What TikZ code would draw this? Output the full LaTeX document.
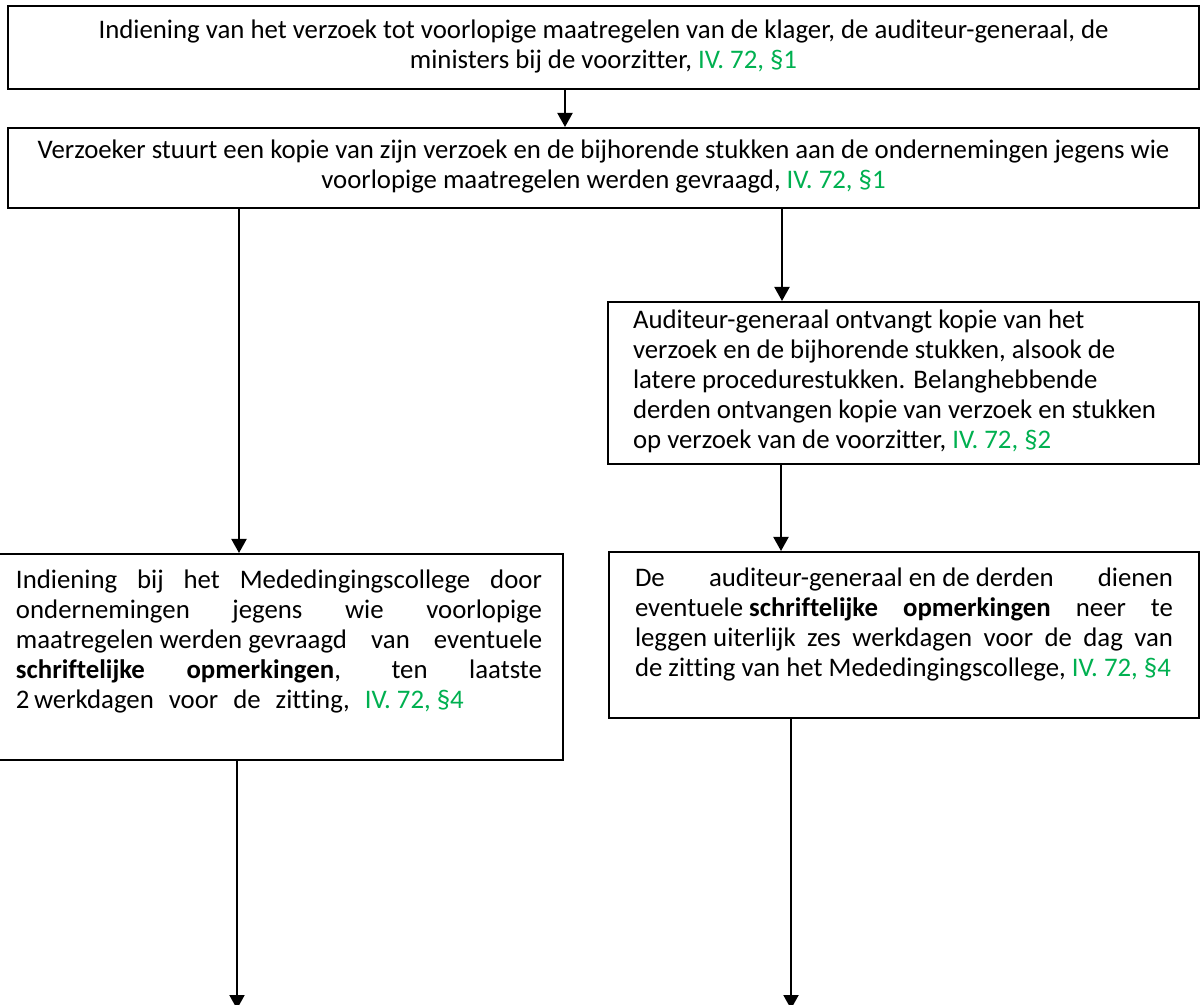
\documentclass[tikz,border=0pt]{standalone}
\usepackage{fontspec}
\setmainfont{Carlito}[Ligatures=NoCommon]
\usepackage{tikz}
\usetikzlibrary{
    arrows.meta,
    positioning,
}
\definecolor{wetgroen}{HTML}{00B050}
\tolerance=10000
\hbadness=10000
\hyphenpenalty=10000
\tikzstyle{stap}=[draw,rectangle,line width=1pt,inner xsep=0pt,inner ysep=0pt,font=\fontsize{13.4}{15}\selectfont]
\tikzstyle{pijl}=[->,line width=1pt]
\tikzset{
    >={Triangle[width=7.5pt,length=7pt]}
}
\newcommand{\Wet}[1]{\textcolor{wetgroen}{#1}}
\newcommand{\Gat}{\hspace{7.5pt}}
% text block of a step: [vertical position]{height}{width}{text}
\newcommand{\Vak}[4][c]{\parbox[c][#2][#1]{#3}{\strut#4\strut}}

\begin{document}
\begin{tikzpicture}[x=0.5pt,y=-0.5pt]
    \useasboundingbox (0,0) rectangle (1200,1005);

    % Steps
    \node[stap,anchor=north west,minimum width=595.5pt] (indiening) at (7,5)
        {\Vak{41.5pt}{560pt}{\centering Indiening van het verzoek tot voorlopige maatregelen van de klager, de auditeur-generaal, de\\ministers bij de voorzitter, \Wet{IV. 72, §1}}};
    \node[stap,below=18.5pt of indiening,minimum width=595.5pt] (verzoek)
        {\Vak{40pt}{590pt}{\centering Verzoeker stuurt een kopie van zijn verzoek en de bijhorende stukken aan de ondernemingen jegens wie\\voorlopige maatregelen werden gevraagd, \Wet{IV. 72, §1}}};
    \node[stap,below=46pt of verzoek.south east,anchor=north east,minimum width=295.5pt] (auditeur)
        {\Vak{81pt}{270.5pt}{\raggedright Auditeur-generaal ontvangt kopie van het\\verzoek en de bijhorende stukken, alsook de\\latere procedurestukken. Belanghebbende\\derden ontvangen kopie van verzoek en stukken\\op verzoek van de voorzitter, \Wet{IV. 72, §2}}};
    \node[stap,anchor=north east,minimum width=284pt,inner ysep=6.5pt] (opmerkingen) at (564,553)
        {\Vak[t]{90pt}{263pt}{Indiening bij het Mededingingscollege door\linebreak
        ondernemingen jegens wie voorlopige\linebreak
        \mbox{maatregelen werden gevraagd} van eventuele\linebreak
        \textbf{schriftelijke opmerkingen}, ten laatste\linebreak
        2\,werkdagen\Gat voor\Gat de\Gat zitting,\Gat\Wet{IV. 72, §4}}};
    \node[stap,below=43pt of auditeur.south east,anchor=north east,minimum width=295pt,inner ysep=7pt] (neerleggen)
        {\Vak[t]{69pt}{269pt}{De \mbox{auditeur-generaal en de derden} dienen\linebreak
        \mbox{eventuele \textbf{schriftelijke}} \textbf{opmerkingen} neer te\linebreak
        \mbox{leggen uiterlijk} zes werkdagen voor de dag van\linebreak
        de zitting van het Mededingingscollege, \Wet{IV. 72, §4}}};

    % Arrows
    \coordinate (onder) at (0,1009);
    \draw[pijl] ([xshift=-19.25pt]indiening.south) -- ([xshift=-19.25pt]indiening.south |- verzoek.north);
    \draw[pijl] ([xshift=-182.25pt]verzoek.south) -- ([xshift=-182.25pt]verzoek.south |- opmerkingen.north);
    \draw[pijl] ([xshift=89.25pt]verzoek.south) -- ([xshift=89.25pt]verzoek.south |- auditeur.north);
    \draw[pijl] ([xshift=-61.25pt]auditeur.south) -- ([xshift=-61.25pt]auditeur.south |- neerleggen.north);
    \draw[pijl] ([xshift=-21pt]opmerkingen.south) -- ([xshift=-21pt]opmerkingen.south |- onder);
    \draw[pijl] ([xshift=-56.5pt]neerleggen.south) -- ([xshift=-56.5pt]neerleggen.south |- onder);
\end{tikzpicture}
\end{document}
